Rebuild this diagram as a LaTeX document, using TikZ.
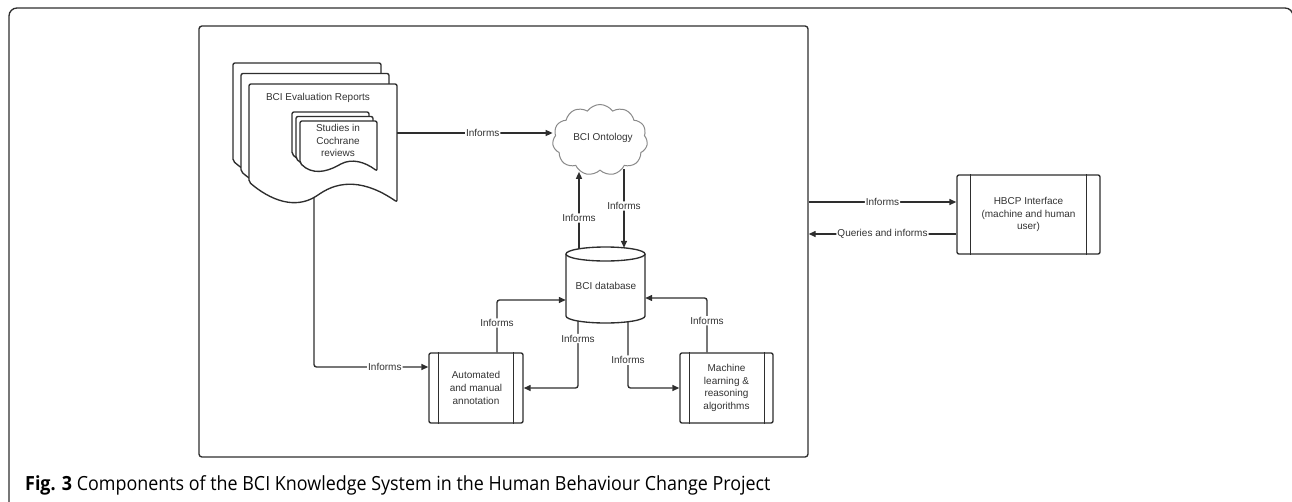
\documentclass[tikz,border=0pt]{standalone}
\usepackage{fontspec}
\setmainfont{Liberation Sans}
\newfontfamily\capfont[FakeStretch=0.918]{Open Sans}
\usetikzlibrary{arrows.meta,shapes.symbols,calc}
\definecolor{lc}{HTML}{2E2E2E}
\definecolor{tc}{HTML}{333333}
\definecolor{cloudc}{HTML}{8A8A8A}
\newcommand\dfont{\fontsize{10}{12.7}\selectfont}
\newcommand\bigpagepath{(249,182) -- (249,84) -- (397,84) -- (397,202) .. controls (365,180) and (340,180) .. (318,195) .. controls (295,210) and (270,200) .. (249,182) -- cycle}
\newcommand\smallpagepath{(300,163) -- (300,121) -- (377,121) -- (377,171) .. controls (365,162) and (352,158) .. (339,165) .. controls (326,172) and (312,175) .. (300,163) -- cycle}
\tikzset{
  line/.style={draw=lc, line width=1.35pt},
  page/.style={line, fill=white, rounded corners=2pt},
  arr/.style={line, rounded corners=2.5pt, -{Triangle[length=7pt,width=6pt]}},
  lbl/.style={fill=white, inner sep=1pt, font=\dfont, text=tc},
  txt/.style={font=\dfont, text=tc, align=center, inner sep=0pt},
  proc/.style={line, fill=white, rounded corners=2pt, font=\dfont, text=tc, align=center, inner sep=0pt},
  frame/.style={line, rounded corners=3pt}
}
\begin{document}
\begin{tikzpicture}[x=1pt,y=-1pt]
\useasboundingbox (0,0) rectangle (1292,501);
% outer frame
\draw[line, rounded corners=8pt] (9,530) -- (9,8) -- (1293,8) -- (1293,530);
% inner frame
\node[frame, minimum width=609pt, minimum height=431pt, inner sep=0pt] (sys) at (503.5,241.5) {};
% BCI evaluation reports stack
\begin{scope}[shift={(-16,-21)}]
  \filldraw[page] \bigpagepath;
\end{scope}
\begin{scope}[shift={(-8,-10.5)}]
  \filldraw[page] \bigpagepath;
\end{scope}
\filldraw[page] \bigpagepath;
\node[minimum width=148pt, minimum height=98pt, inner sep=0pt] (rep) at (323,133) {};
\node[txt] (reptitle) at (318,98) {BCI Evaluation Reports};
% studies stack
\begin{scope}[shift={(-8,-9)}]
  \filldraw[page] \smallpagepath;
\end{scope}
\begin{scope}[shift={(-4,-4.5)}]
  \filldraw[page] \smallpagepath;
\end{scope}
\filldraw[page] \smallpagepath;
\node[txt] (stud) at (338,140.5) {Studies in\\Cochrane\\reviews};
% ontology
\node[cloud, cloud puffs=11, cloud puff arc=110, cloud ignores aspect, draw=cloudc, line width=1pt,
      minimum width=95pt, minimum height=71pt, inner sep=0pt] (onto) at (600,140) {};
\node[txt] (ontotxt) at (603,138) {BCI Ontology};
% database
\node[minimum width=79pt, minimum height=76pt, inner sep=0pt] (db) at (605.5,285) {};
\filldraw[line, fill=white] (566,254) -- (566,316) arc[start angle=180, end angle=360, x radius=39.5, y radius=-7] -- (645,254);
\draw[line] (605.5,254) ellipse[x radius=39.5, y radius=7];
\node[txt] (dbtxt) at (606,286) {BCI database};
% process boxes
\node[proc, minimum width=94pt, minimum height=70pt] (ann) at (476,388) {Automated\\and manual\\annotation};
\draw[line] ([xshift=10pt]ann.north west) -- ([xshift=10pt]ann.south west);
\draw[line] ([xshift=-10pt]ann.north east) -- ([xshift=-10pt]ann.south east);
\node[proc, minimum width=93pt, minimum height=70pt] (ml) at (726.5,388) {Machine\\learning \&\\reasoning\\algorithms};
\draw[line] ([xshift=10pt]ml.north west) -- ([xshift=10pt]ml.south west);
\draw[line] ([xshift=-9pt]ml.north east) -- ([xshift=-9pt]ml.south east);
\node[proc, minimum width=143pt, minimum height=79pt] (hbcp) at (1028.5,214.5) {HBCP Interface\\(machine and human\\user)};
\draw[line] ([xshift=14pt]hbcp.north west) -- ([xshift=14pt]hbcp.south west);
\draw[line] ([xshift=-14pt]hbcp.north east) -- ([xshift=-14pt]hbcp.south east);
% connectors
\draw[arr] (rep.east) -- (rep.east -| onto.west) node[lbl, pos=0.55] {Informs};
\draw[arr] ([xshift=-26.5pt,yshift=-2pt]db.north) -- ++(0,-77) node[lbl, pos=0.4] {Informs};
\draw[arr] ([xshift=18.5pt,yshift=78pt]db.north) -- ([xshift=18.5pt,yshift=-1pt]db.north) node[lbl, pos=0.47] {Informs};
\draw[arr] ([xshift=21pt]ann.north) |- ([yshift=-15pt]db.west) node[lbl, pos=0.28] {Informs};
\draw[arr] ([xshift=-19.5pt]ml.north) |- ([yshift=-13pt]db.east) node[lbl, pos=0.29] {Informs};
\draw[arr] ([xshift=-27.5pt,yshift=2pt]db.south) |- (ann.east) node[lbl, pos=0.13] {Informs};
\draw[arr] ([xshift=22.5pt,yshift=1.5pt]db.south) |- (ml.west) node[lbl, pos=0.29] {Informs};
\draw[arr] ([xshift=-9pt,yshift=-15pt]rep.south) |- ([yshift=21pt]ann.west) node[lbl, pos=0.81] {Informs};
\coordinate (h1) at ([yshift=12.5pt]hbcp.west);
\coordinate (h2) at ([yshift=-19.5pt]hbcp.west);
\draw[arr] (h1 -| sys.east) -- (h1) node[lbl, pos=0.5] {Informs};
\draw[arr] (h2) -- (h2 -| sys.east) node[lbl, pos=0.5] {Queries and informs};
% caption
\node[anchor=base west, inner sep=0pt, text=black, font=\capfont\fontsize{19.5}{22}\selectfont] (cap) at (25,490)
  {\textbf{Fig. 3} Components of the BCI Knowledge System in the Human Behaviour Change Project};
\end{tikzpicture}
\end{document}
